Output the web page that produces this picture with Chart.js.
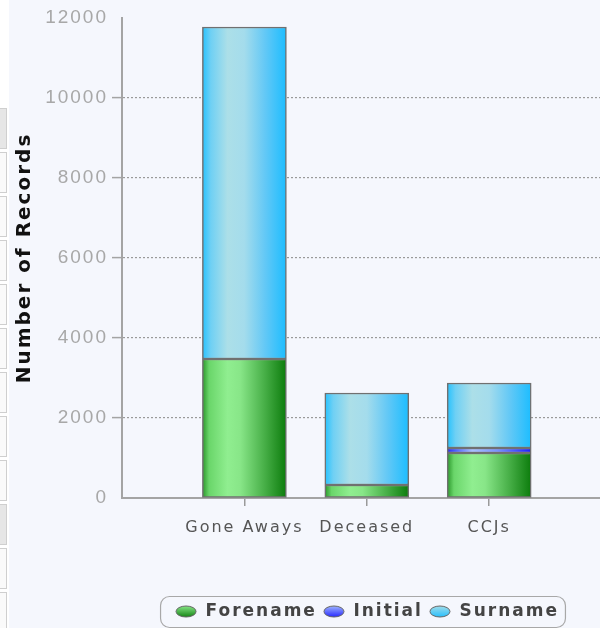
<!DOCTYPE html>
<html>
<head>
<meta charset="utf-8">
<script src="https://cdn.jsdelivr.net/npm/chart.js@4.4.0/dist/chart.umd.min.js"></script>
<style>
  html, body { margin: 0; padding: 0; background: #fff; overflow: hidden; width: 600px; height: 628px; }
  #bg { position: absolute; left: 9px; top: 0; width: 591px; height: 628px; background: #f5f7fd; }
  .cell { position: absolute; left: 0; width: 6px; height: 39px; border: 1px solid #cfcfcf; border-left: none; background: #fafafa; }
  #barChart { position: absolute; left: 0; top: 0; }
</style>
</head>
<body>
<div id="bg"></div>
<div id="cells"></div>
<canvas id="barChart" width="734" height="630"></canvas>
<script>
// chart data
var categories = ['Gone Aways', 'Deceased', 'CCJs'];
var forename = [3475, 325, 1125];
var initial = [0, 0, 125];
var surname = [8300, 2300, 1625];
var yTicks = [0, 2000, 4000, 6000, 8000, 10000, 12000];

// the strip of table cells on the left edge of the page
var cells = document.getElementById('cells');
for (var k = 0; k < 12; k++) {
    var d = document.createElement('div');
    d.className = 'cell';
    d.style.top = (108 + k * 44) + 'px';
    if (k === 0 || k === 9) d.style.background = '#e6e6e6';
    cells.appendChild(d);
}

// empty slot before and two after, so the bars sit where they do in the picture
var labels = [''].concat(categories, ['', '']);
function pad(arr) { return [null].concat(arr, [null, null]); }

var BAR = 84;

// horizontal gradient across each bar
function barGradient(stops) {
    return function(c) {
        var chart = c.chart;
        if (!chart.chartArea || c.dataIndex === undefined) return stops[2][1];
        var x = chart.scales.x.getPixelForValue(c.dataIndex);
        var g = chart.ctx.createLinearGradient(x - BAR / 2, 0, x + BAR / 2, 0);
        stops.forEach(function(s) { g.addColorStop(s[0], s[1]); });
        return g;
    };
}

var greenStops = [[0, '#2a962a'], [0.08, '#6ad66a'], [0.3, '#90ee90'], [0.45, '#88e688'], [0.75, '#45ad45'], [1, '#0c7c0c']];
var blueStops = [[0, '#2828f0'], [0.1, '#4c60ff'], [0.3, '#a8c0ff'], [0.6, '#7890ff'], [1, '#1c1cff']];
var skyStops = [[0, '#26c2fe'], [0.1, '#6fd0f4'], [0.3, '#acdfe8'], [0.5, '#a4dcec'], [0.75, '#62c8f6'], [1, '#1cbdff']];

// little ellipses for the legend
function ellipse(stops) {
    var cv = document.createElement('canvas');
    cv.width = 22; cv.height = 13;
    var x = cv.getContext('2d');
    var g = x.createLinearGradient(0, 0, 0, 13);
    g.addColorStop(0, stops[2][1]);
    g.addColorStop(1, stops[stops.length - 1][1]);
    x.beginPath();
    x.ellipse(11, 6.5, 10, 5.5, 0, 0, Math.PI * 2);
    x.fillStyle = g;
    x.fill();
    x.lineWidth = 1;
    x.strokeStyle = '#666';
    x.stroke();
    return cv;
}
var markers = [ellipse(greenStops), ellipse(blueStops), ellipse(skyStops)];

var spacingPlugin = {
    id: 'spacing',
    beforeLayout: function(chart) { chart.ctx.letterSpacing = '2px'; },
    beforeDraw: function(chart) { chart.ctx.letterSpacing = '2px'; }
};

var legendBox = {
    id: 'legendBox',
    afterDraw: function(chart) {
        var hb = chart.legend.legendHitBoxes;
        if (!hb || !hb.length) return;
        var l = hb[0].left - 15, r = hb[hb.length - 1].left + hb[hb.length - 1].width + 6;
        var t = hb[0].top - 7, b = hb[0].top + hb[0].height + 7;
        var ctx = chart.ctx;
        ctx.save();
        ctx.beginPath();
        ctx.roundRect(l + 0.5, t + 0.5, r - l, b - t, 9);
        ctx.lineWidth = 1.2;
        ctx.strokeStyle = '#a8a8a8';
        ctx.stroke();
        ctx.restore();
    }
};

function hideEnds(on, off) {
    return function(c) {
        if (!c.tick) return on;
        return (c.tick.value === 0 || c.tick.value === 12000) ? off : on;
    };
}

var ctx = document.getElementById('barChart').getContext('2d');
var barChart = new Chart(ctx, {
    type: 'bar',
    data: {
        labels: labels,
        datasets: [
            { label: 'Forename', data: pad(forename), backgroundColor: barGradient(greenStops) },
            { label: 'Initial', data: pad(initial), backgroundColor: barGradient(blueStops) },
            { label: 'Surname', data: pad(surname), backgroundColor: barGradient(skyStops) }
        ]
    },
    options: {
        responsive: false,
        animation: false,
        layout: { padding: { top: 18, left: 0, right: 0, bottom: 0 } },
        datasets: {
            bar: {
                barThickness: BAR,
                borderColor: '#707070',
                borderWidth: 1.5,
                borderSkipped: false
            }
        },
        scales: {
            x: {
                stacked: true,
                offset: false,
                afterFit: function(s) { s.height = 99; s.paddingLeft = 0; s.paddingRight = 0; },
                grid: {
                    offset: false,
                    drawOnChartArea: false,
                    drawTicks: true,
                    tickLength: 8,
                    color: function(c) { return (c.index >= 1 && c.index <= 3) ? '#9a9a9a' : 'rgba(0,0,0,0)'; },
                    lineWidth: 1.5
                },
                border: { color: '#a4a4a4', width: 2 },
                ticks: {
                    autoSkip: false,
                    maxRotation: 0,
                    minRotation: 0,
                    padding: 12,
                    color: '#555',
                    font: { family: 'DejaVu Sans', size: 16 }
                }
            },
            y: {
                stacked: true,
                min: 0,
                max: 12000,
                afterFit: function(s) { s.width = 122; },
                afterBuildTicks: function(s) { s.ticks = yTicks.map(function(v) { return { value: v }; }); },
                grid: {
                    color: hideEnds('#9a9a9a', 'rgba(0,0,0,0)'),
                    tickColor: hideEnds('#a4a4a4', 'rgba(0,0,0,0)'),
                    tickLength: 10,
                    lineWidth: 1.2,
                    tickWidth: 1.5
                },
                border: { color: '#a4a4a4', width: 2, dash: [2, 2] },
                ticks: {
                    padding: 4,
                    color: '#a8a8a8',
                    font: { family: 'Liberation Sans', size: 19 },
                    callback: function(v) { return String(v); }
                },
                title: {
                    display: true,
                    text: 'Number of Records',
                    color: '#111',
                    padding: { top: 13, bottom: 0 },
                    font: { family: 'DejaVu Sans', size: 20, weight: 'bold' }
                }
            }
        },
        plugins: {
            tooltip: { enabled: false },
            legend: {
                position: 'bottom',
                labels: {
                    usePointStyle: true,
                    pointStyleWidth: 22,
                    padding: 6,
                    color: '#444',
                    font: { family: 'DejaVu Sans', size: 17, weight: 'bold' },
                    generateLabels: function(chart) {
                        var items = Chart.defaults.plugins.legend.labels.generateLabels(chart);
                        items.forEach(function(it, i) { it.pointStyle = markers[i]; });
                        return items;
                    }
                }
            }
        }
    },
    plugins: [spacingPlugin, legendBox]
});
</script>
</body>
</html>
